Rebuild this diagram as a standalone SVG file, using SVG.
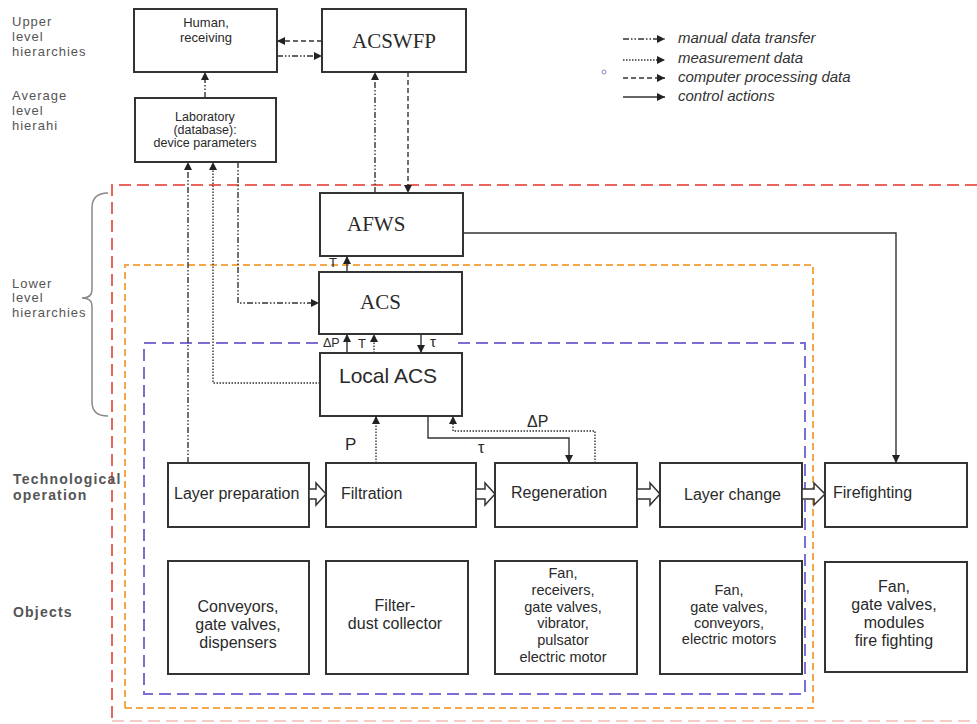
<svg xmlns="http://www.w3.org/2000/svg" width="977" height="724" viewBox="0 0 977 724">
<defs>
<marker id="ah" viewBox="0 0 10 10" refX="10" refY="5" markerWidth="9" markerHeight="8" markerUnits="userSpaceOnUse" orient="auto"><path d="M0,0 L10,5 L0,10 z" fill="#222"/></marker>
<style>
.box{fill:#fff;stroke:#333;stroke-width:2}
.t{font-family:"Liberation Sans",Arial,sans-serif;fill:#2a2a2a}
.ts{font-family:"Liberation Serif","Times New Roman",serif;fill:#2a2a2a;font-size:21px}
.lvl{font-family:"Liberation Sans",Arial,sans-serif;fill:#555;font-size:13px;letter-spacing:1px}
.lvb{font-family:"Liberation Sans",Arial,sans-serif;fill:#555;font-size:14px;font-weight:bold;letter-spacing:1.2px}
.leg{font-family:"Liberation Sans",Arial,sans-serif;fill:#333;font-size:15px;font-style:italic}
.c{fill:none;stroke:#333;stroke-width:1.4}
.man{stroke-dasharray:6 2 1.5 2 1.5 2}
.mea{stroke-dasharray:1.5 1.5}
.cmp{stroke-dasharray:5 3}
.arr{marker-end:url(#ah)}
.blk{fill:#fff;stroke:#333;stroke-width:1.5}
.red{fill:none;stroke:#e8655c;stroke-width:2;stroke-dasharray:12 6}
.org{fill:none;stroke:#f5a74a;stroke-width:2;stroke-dasharray:7 4}
.pur{fill:none;stroke:#7b6fd6;stroke-width:2;stroke-dasharray:12 6}
</style>
</defs>
<rect width="977" height="724" fill="#fff"/>

<g id="boundaries">
<path class="red" d="M977,185 H112 V724"/>
<path d="M112,721 H977" fill="none" stroke="#f4cdc8" stroke-width="2" stroke-dasharray="12 6"/>
<path class="org" d="M125,708 V265 H813 V708 H125"/>
<path class="pur" d="M318,343 H144 V694 H805 V343 H453"/>
<path d="M108,193 Q92,193 92,208 V290 Q92,298 82,298 Q92,298 92,306 V402 Q92,416 108,416" fill="none" stroke="#888" stroke-width="1.5"/>
</g>

<g id="level-labels">
<text class="lvl" x="12" y="26">Upper</text>
<text class="lvl" x="12" y="41">level</text>
<text class="lvl" x="12" y="56">hierarchies</text>
<text class="lvl" x="12" y="100">Average</text>
<text class="lvl" x="12" y="115">level</text>
<text class="lvl" x="12" y="130">hierahi</text>
<text class="lvl" x="12" y="288">Lower</text>
<text class="lvl" x="12" y="302">level</text>
<text class="lvl" x="12" y="317">hierarchies</text>
<text class="lvb" x="13" y="484">Technological</text>
<text class="lvb" x="13" y="500">operation</text>
<text class="lvb" x="13" y="617">Objects</text>
</g>

<g id="legend">
<path class="c man arr" d="M623,39 H665"/>
<path class="c mea arr" d="M623,60 H665"/>
<path class="c cmp arr" d="M623,78 H665"/>
<path class="c arr" d="M623,97 H665"/>
<circle cx="604" cy="72" r="2" fill="none" stroke="#8888cc" stroke-width="1"/>
<text class="leg" x="678" y="43">manual data transfer</text>
<text class="leg" x="678" y="63">measurement data</text>
<text class="leg" x="678" y="82">computer processing data</text>
<text class="leg" x="678" y="101">control actions</text>
</g>

<g id="human">
<rect class="box" x="134" y="9" width="143" height="63"/>
<text class="t" font-size="13" text-anchor="middle" x="206" y="27">Human,</text>
<text class="t" font-size="13" text-anchor="middle" x="206" y="42">receiving</text>
</g>
<g id="acswfp">
<rect class="box" x="322" y="9" width="144" height="63"/>
<text class="ts" text-anchor="middle" x="394" y="48">ACSWFP</text>
</g>
<g id="laboratory">
<rect class="box" x="135" y="98" width="141" height="64"/>
<text class="t" font-size="12.5" text-anchor="middle" x="205" y="121">Laboratory</text>
<text class="t" font-size="12.5" text-anchor="middle" x="205" y="134">(database):</text>
<text class="t" font-size="12.5" text-anchor="middle" x="205" y="147">device parameters</text>
</g>
<g id="afws">
<rect class="box" x="320" y="193" width="143" height="63"/>
<text class="ts" x="347" y="231">AFWS</text>
</g>
<g id="acs">
<rect class="box" x="319" y="272" width="143" height="62"/>
<text class="ts" x="360" y="309">ACS</text>
</g>
<g id="local-acs">
<rect class="box" x="320" y="353" width="142" height="63"/>
<text class="t" font-size="21" x="339" y="383">Local ACS</text>
</g>

<g id="op-layer-preparation">
<rect class="box" x="168" y="463" width="141" height="64"/>
<text class="t" font-size="16" x="174" y="499">Layer preparation</text>
</g>
<g id="op-filtration">
<rect class="box" x="326" y="463" width="150" height="64"/>
<text class="t" font-size="16" x="341" y="499">Filtration</text>
</g>
<g id="op-regeneration">
<rect class="box" x="495" y="463" width="142" height="64"/>
<text class="t" font-size="16" x="511" y="498">Regeneration</text>
</g>
<g id="op-layer-change">
<rect class="box" x="660" y="463" width="142" height="64"/>
<text class="t" font-size="16" x="684" y="500">Layer change</text>
</g>
<g id="op-firefighting">
<rect class="box" x="825" y="463" width="142" height="64"/>
<text class="t" font-size="16" x="833" y="498">Firefighting</text>
</g>

<g id="obj-conveyors">
<rect class="box" x="168" y="561" width="141" height="113"/>
<text class="t" font-size="16" text-anchor="middle" x="238" y="612">Conveyors,</text>
<text class="t" font-size="16" text-anchor="middle" x="238" y="630">gate valves,</text>
<text class="t" font-size="16" text-anchor="middle" x="238" y="648">dispensers</text>
</g>
<g id="obj-filter">
<rect class="box" x="326" y="561" width="142" height="113"/>
<text class="t" font-size="16" text-anchor="middle" x="395" y="611">Filter-</text>
<text class="t" font-size="16" text-anchor="middle" x="395" y="629">dust collector</text>
</g>
<g id="obj-regeneration">
<rect class="box" x="495" y="561" width="142" height="113"/>
<text class="t" font-size="14.5" text-anchor="middle" x="563" y="578">Fan,</text>
<text class="t" font-size="14.5" text-anchor="middle" x="563" y="595">receivers,</text>
<text class="t" font-size="14.5" text-anchor="middle" x="563" y="612">gate valves,</text>
<text class="t" font-size="14.5" text-anchor="middle" x="563" y="628">vibrator,</text>
<text class="t" font-size="14.5" text-anchor="middle" x="563" y="645">pulsator</text>
<text class="t" font-size="14.5" text-anchor="middle" x="563" y="662">electric motor</text>
</g>
<g id="obj-layer-change">
<rect class="box" x="660" y="561" width="142" height="113"/>
<text class="t" font-size="14.5" text-anchor="middle" x="729" y="595">Fan,</text>
<text class="t" font-size="14.5" text-anchor="middle" x="729" y="612">gate valves,</text>
<text class="t" font-size="14.5" text-anchor="middle" x="729" y="628">conveyors,</text>
<text class="t" font-size="14.5" text-anchor="middle" x="729" y="644">electric motors</text>
</g>
<g id="obj-firefighting">
<rect class="box" x="825" y="562" width="142" height="110"/>
<text class="t" font-size="16" text-anchor="middle" x="894" y="592">Fan,</text>
<text class="t" font-size="16" text-anchor="middle" x="894" y="610">gate valves,</text>
<text class="t" font-size="16" text-anchor="middle" x="894" y="628">modules</text>
<text class="t" font-size="16" text-anchor="middle" x="894" y="646">fire fighting</text>
</g>

<g id="connectors">
<path class="c cmp arr" d="M322,41 H277"/>
<path class="c man arr" d="M277,56 H322"/>
<path class="c man arr" d="M205,98 V72"/>
<path class="c man arr" d="M375,193 V72"/>
<path class="c cmp arr" d="M408,72 V193"/>
<path class="c man arr" d="M188,463 V162"/>
<path class="c mea arr" d="M320,383 H213 V162"/>
<path class="c man arr" d="M238,162 V303 H319"/>
<path class="c arr" d="M347,272 V256"/>
<path class="c arr" d="M347,353 V334"/>
<path class="c mea arr" d="M374,353 V334"/>
<path class="c arr" d="M421,334 V353"/>
<path class="c mea arr" d="M376,463 V416"/>
<path class="c arr" d="M428,416 V438 H569 V463"/>
<path class="c mea arr" d="M595,463 V431 H453 V416"/>
<path class="c arr" d="M463,233 H896 V463"/>
<path class="blk" d="M309,489 H316 V483 L326,494 L316,505 V499 H309 Z"/>
<path class="blk" d="M476,489 H485 V483 L495,494 L485,505 V499 H476 Z"/>
<path class="blk" d="M637,489 H650 V483 L660,494 L650,505 V499 H637 Z"/>
<path class="blk" d="M802,489 H814 V483 L825,494 L814,505 V499 H802 Z"/>
<text class="t" font-size="13" x="329" y="267">T</text>
<text class="t" font-size="12.5" x="323" y="347">ΔP</text>
<text class="t" font-size="13" x="358" y="348">T</text>
<text class="t" font-size="15" x="430" y="347">τ</text>
<text class="t" font-size="17" x="345" y="450">P</text>
<text class="t" font-size="16" x="478" y="453">τ</text>
<text class="t" font-size="16" x="527" y="427">ΔP</text>
</g>
</svg>
